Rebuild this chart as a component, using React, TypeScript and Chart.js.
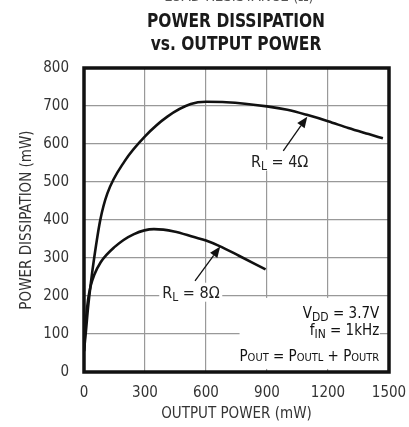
import React, { useEffect, useRef } from "react";
import { Chart, registerables } from "chart.js";
Chart.register(...registerables);

// ---- data ----
const xTickValues = [0, 300, 600, 900, 1200, 1500];
const yTickValues = [0, 100, 200, 300, 400, 500, 600, 700, 800];

const rl4OutputPower = [0, 10, 20, 35, 50, 80, 115, 200, 300, 410, 525, 600, 700, 900, 1000, 1100, 1200, 1300, 1400, 1470];
const rl4Dissipation = [55, 110, 170, 240, 300, 400, 470, 555, 620, 672, 705, 711, 710, 699, 690, 676, 660, 642, 626, 615];

const rl8OutputPower = [0, 10, 20, 33, 50, 82, 148, 246, 344, 443, 541, 600, 664, 762, 893];
const rl8Dissipation = [55, 140, 190, 227, 255, 289, 328, 363, 376, 370, 355, 346, 332, 306, 270];

const titleLines = ["POWER DISSIPATION", "vs. OUTPUT POWER"];
const topCutText = "LOAD RESISTANCE (\u03a9)";
const xTitle = "OUTPUT POWER (mW)";
const yTitle = "POWER DISSIPATION (mW)";

const FONT = '"DejaVu Sans Condensed", "Liberation Sans", Arial, sans-serif';

type Seg = { t: string; sub?: boolean };

function segWidth(ctx: CanvasRenderingContext2D, segs: Seg[], size: number, subSize: number) {
  let w = 0;
  for (const s of segs) {
    ctx.font = `${s.sub ? subSize : size}px ${FONT}`;
    w += ctx.measureText(s.t).width;
  }
  return w;
}

function drawSegs(
  ctx: CanvasRenderingContext2D,
  segs: Seg[],
  x: number,
  y: number,
  align: "left" | "center" | "right",
  size: number,
  subSize: number,
  subDrop: number
) {
  const w = segWidth(ctx, segs, size, subSize);
  let cx = align === "left" ? x : align === "center" ? x - w / 2 : x - w;
  ctx.textAlign = "left";
  ctx.textBaseline = "alphabetic";
  for (const s of segs) {
    ctx.font = `${s.sub ? subSize : size}px ${FONT}`;
    ctx.fillText(s.t, cx, s.sub ? y + subDrop : y);
    cx += ctx.measureText(s.t).width;
  }
  return w;
}

function arrow(ctx: CanvasRenderingContext2D, x1: number, y1: number, x2: number, y2: number) {
  const ang = Math.atan2(y2 - y1, x2 - x1);
  const hl = 11, hw = 4.5;
  const bx = x2 - hl * Math.cos(ang), by = y2 - hl * Math.sin(ang);
  ctx.strokeStyle = "#111";
  ctx.lineWidth = 1.3;
  ctx.beginPath();
  ctx.moveTo(x1, y1);
  ctx.lineTo(bx, by);
  ctx.stroke();
  ctx.fillStyle = "#111";
  ctx.beginPath();
  ctx.moveTo(x2, y2);
  ctx.lineTo(bx + hw * Math.sin(ang), by - hw * Math.cos(ang));
  ctx.lineTo(bx - hw * Math.sin(ang), by + hw * Math.cos(ang));
  ctx.closePath();
  ctx.fill();
}

const decorPlugin = {
  id: "decor",
  beforeDatasetsDraw(chart: any) {
    const ctx: CanvasRenderingContext2D = chart.ctx;
    const xs = chart.scales.x, ys = chart.scales.y;
    ctx.save();
    ctx.fillStyle = "#fff";
    const box = (x0: number, y0: number, x1: number, y1: number) => {
      const px0 = xs.getPixelForValue(x0), px1 = xs.getPixelForValue(x1);
      const py0 = ys.getPixelForValue(y0), py1 = ys.getPixelForValue(y1);
      ctx.fillRect(Math.min(px0, px1), Math.min(py0, py1), Math.abs(px1 - px0), Math.abs(py1 - py0));
    };
    box(820, 530, 1100, 585); // RL=4
    box(370, 185, 680, 235); // RL=8
    box(765, 8, 1455, 195); // conditions box
    ctx.restore();
  },
  afterDatasetsDraw(chart: any) {
    const ctx: CanvasRenderingContext2D = chart.ctx;
    const xs = chart.scales.x, ys = chart.scales.y;
    const a = chart.chartArea;
    const px = (v: number) => xs.getPixelForValue(v);
    const py = (v: number) => ys.getPixelForValue(v);
    ctx.save();
    ctx.fillStyle = "#222";
    drawSegs(ctx, [{ t: "R" }, { t: "L", sub: true }, { t: " = 4\u03a9" }], px(962), py(540), "center", 16, 12, 3);
    drawSegs(ctx, [{ t: "R" }, { t: "L", sub: true }, { t: " = 8\u03a9" }], px(526), py(194), "center", 16, 12, 3);
    arrow(ctx, px(980), py(582), px(1098), py(672));
    arrow(ctx, px(546), py(240), px(670), py(330));
    const rx = px(1452);
    drawSegs(ctx, [{ t: "V" }, { t: "DD", sub: true }, { t: " = 3.7V" }], rx, py(143), "right", 15, 12, 3);
    drawSegs(ctx, [{ t: "f" }, { t: "IN", sub: true }, { t: " = 1kHz" }], rx, py(97), "right", 15, 12, 3);
    drawSegs(
      ctx,
      [{ t: "P" }, { t: "OUT", sub: true }, { t: " = P" }, { t: "OUTL", sub: true }, { t: " + P" }, { t: "OUTR", sub: true }],
      rx,
      py(30),
      "right",
      15,
      11,
      0
    );
    ctx.strokeStyle = "#111";
    ctx.lineWidth = 3.5;
    ctx.strokeRect(a.left, a.top, a.right - a.left, a.bottom - a.top);
    ctx.restore();
  },
  afterDraw(chart: any) {
    const ctx: CanvasRenderingContext2D = chart.ctx;
    const a = chart.chartArea;
    ctx.save();
    ctx.fillStyle = "#555";
    ctx.textAlign = "center";
    ctx.textBaseline = "alphabetic";
    ctx.font = `15px ${FONT}`;
    ctx.fillText(topCutText, 239, 1);
    // title (horizontally condensed)
    ctx.fillStyle = "#1a1a1a";
    ctx.font = `bold 20px ${FONT}`;
    ctx.save();
    ctx.translate(236, 0);
    ctx.scale(0.86, 1);
    ctx.fillText(titleLines[0], 0, 27);
    ctx.fillText(titleLines[1], 0, 50);
    ctx.restore();
    ctx.fillStyle = "#333";
    ctx.font = `15px ${FONT}`;
    ctx.fillText(xTitle, (a.left + a.right) / 2, 418);
    ctx.translate(31, (a.top + a.bottom) / 2);
    ctx.rotate(-Math.PI / 2);
    ctx.fillText(yTitle, 0, 0);
    ctx.restore();
  },
};

export default function App() {
  const ref = useRef<HTMLCanvasElement | null>(null);
  useEffect(() => {
    document.body.style.margin = "0";
    const canvas = ref.current!;
    const chart = new Chart(canvas, {
      type: "line",
      data: {
        datasets: [
          {
            label: "RL = 4\u03a9",
            data: rl4OutputPower.map((x, i) => ({ x, y: rl4Dissipation[i] })),
            borderColor: "#111",
            borderWidth: 2.6,
            pointRadius: 0,
            cubicInterpolationMode: "monotone",
            fill: false,
          },
          {
            label: "RL = 8\u03a9",
            data: rl8OutputPower.map((x, i) => ({ x, y: rl8Dissipation[i] })),
            borderColor: "#111",
            borderWidth: 2.6,
            pointRadius: 0,
            cubicInterpolationMode: "monotone",
            fill: false,
          },
        ],
      },
      options: {
        responsive: false,
        animation: false,
        layout: { padding: { top: 68, right: 20, left: 0, bottom: 0 } },
        plugins: { legend: { display: false }, tooltip: { enabled: false }, title: { display: false } },
        scales: {
          x: {
            type: "linear",
            min: 0,
            max: 1500,
            afterBuildTicks: (s: any) => {
              s.ticks = xTickValues.map((v) => ({ value: v }));
            },
            afterFit: (s: any) => {
              s.height = 55;
              s.paddingLeft = 0;
              s.paddingRight = 0;
            },
            grid: { color: "#999", lineWidth: 1.2, drawTicks: false },
            border: { display: false },
            ticks: { color: "#333", font: { family: FONT, size: 15 }, padding: 12, maxRotation: 0, callback: (v: any) => String(v) },
          },
          y: {
            type: "linear",
            min: 0,
            max: 800,
            afterBuildTicks: (s: any) => {
              s.ticks = yTickValues.map((v) => ({ value: v }));
            },
            afterFit: (s: any) => {
              s.width = 84;
              s.paddingTop = 0;
              s.paddingBottom = 0;
            },
            grid: { color: "#999", lineWidth: 1.2, drawTicks: false },
            border: { display: false },
            ticks: { color: "#333", font: { family: FONT, size: 15 }, padding: 15, callback: (v: any) => String(v) },
          },
        },
      },
      plugins: [decorPlugin],
    } as any);
    return () => chart.destroy();
  }, []);
  return (
    <div style={{ position: "absolute", left: 0, top: 0, width: 409, height: 427, background: "#fff" }}>
      <canvas ref={ref} width={409} height={427} />
    </div>
  );
}
